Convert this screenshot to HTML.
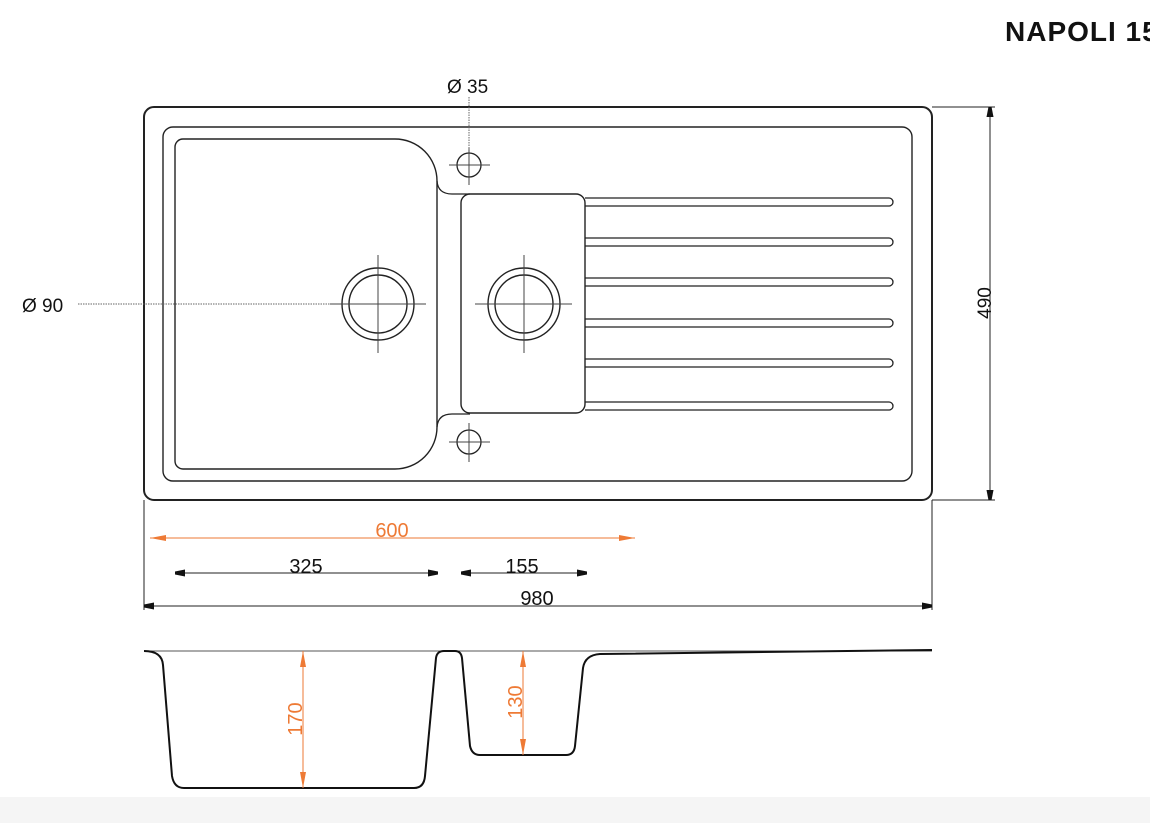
<!DOCTYPE html>
<html><head><meta charset="utf-8"><style>
html,body{margin:0;padding:0;background:#fff;}
svg{display:block;}
text{font-family:"Liberation Sans",Arial,sans-serif;}
</style></head><body>
<svg width="1150" height="823" viewBox="0 0 1150 823" xmlns="http://www.w3.org/2000/svg">
<defs>
<marker id="ab" markerWidth="10" markerHeight="8" refX="10" refY="4" orient="auto-start-reverse" markerUnits="userSpaceOnUse"><path d="M0,0.5 L18,4 L0,7.5 Z" fill="#111"/></marker>
<marker id="ao" markerWidth="16" markerHeight="8" refX="16" refY="4" orient="auto-start-reverse" markerUnits="userSpaceOnUse"><path d="M0,1 L16,4 L0,7 Z" fill="#ee7a35"/></marker>
</defs>
<rect x="0" y="797" width="1150" height="26" fill="#f5f5f5"/>
<text x="1005" y="41" font-size="28" font-weight="bold" fill="#111" letter-spacing="1">NAPOLI 15</text>

<g fill="none" stroke="#222">
<rect x="144" y="107" width="788" height="393" rx="10" stroke-width="2"/>
<rect x="163" y="127" width="749" height="354" rx="10" stroke-width="1.4"/>
<!-- left bowl -->
<path d="M183,139 L395,139 A42,42 0 0 1 437,181 L437,427 A42,42 0 0 1 395,469 L183,469 A8,8 0 0 1 175,461 L175,147 A8,8 0 0 1 183,139 Z" stroke-width="1.4"/>
<!-- ledges -->
<path d="M437,181 Q438,194 452,194 L470,194" stroke-width="1.3"/>
<path d="M437,427 Q438,414 452,414 L470,414" stroke-width="1.3"/>
<!-- small bowl -->
<rect x="461" y="194" width="124" height="219" rx="9" stroke-width="1.4"/>
<!-- grooves -->
<g stroke-width="1.3">
<path d="M585,198 L889,198 A4,4 0 0 1 889,206 L585,206"/>
<path d="M585,238 L889,238 A4,4 0 0 1 889,246 L585,246"/>
<path d="M585,278 L889,278 A4,4 0 0 1 889,286 L585,286"/>
<path d="M585,319 L889,319 A4,4 0 0 1 889,327 L585,327"/>
<path d="M585,359 L889,359 A4,4 0 0 1 889,367 L585,367"/>
<path d="M585,402 L889,402 A4,4 0 0 1 889,410 L585,410"/>
</g>
<!-- drains -->
<circle cx="378" cy="304" r="36" stroke-width="1.4"/>
<circle cx="378" cy="304" r="29" stroke-width="1.4"/>
<circle cx="524" cy="304" r="36" stroke-width="1.4"/>
<circle cx="524" cy="304" r="29" stroke-width="1.4"/>
<circle cx="469" cy="165" r="12" stroke-width="1.3"/>
<circle cx="469" cy="442" r="12" stroke-width="1.3"/>
</g>
<g stroke="#444" stroke-width="1">
<line x1="378" y1="255" x2="378" y2="353"/><line x1="330" y1="304" x2="426" y2="304"/>
<line x1="524" y1="255" x2="524" y2="353"/><line x1="475" y1="304" x2="572" y2="304"/>
<line x1="469" y1="148" x2="469" y2="185"/><line x1="449" y1="165" x2="490" y2="165"/>
<line x1="469" y1="423" x2="469" y2="462"/><line x1="449" y1="442" x2="490" y2="442"/>
</g>
<g stroke="#666" stroke-width="1" stroke-dasharray="1.5,1">
<line x1="78" y1="304" x2="330" y2="304"/>
<line x1="469" y1="97" x2="469" y2="150"/>
</g>
<text x="447" y="93" font-size="19" fill="#111">Ø 35</text>
<text x="22" y="312" font-size="19" fill="#111">Ø 90</text>

<!-- 490 -->
<g stroke="#222" stroke-width="1" fill="none">
<line x1="932" y1="107" x2="995" y2="107"/>
<line x1="932" y1="500" x2="995" y2="500"/>
<line x1="990" y1="107" x2="990" y2="500" marker-start="url(#ab)" marker-end="url(#ab)"/>
<line x1="144" y1="500" x2="144" y2="610"/>
<line x1="932" y1="500" x2="932" y2="610"/>
<line x1="175" y1="573" x2="438" y2="573" marker-start="url(#ab)" marker-end="url(#ab)"/>
<line x1="461" y1="573" x2="587" y2="573" marker-start="url(#ab)" marker-end="url(#ab)"/>
<line x1="144" y1="606" x2="932" y2="606" marker-start="url(#ab)" marker-end="url(#ab)"/>
</g>
<text transform="translate(991,303) rotate(-90)" text-anchor="middle" font-size="19" fill="#111">490</text>
<line x1="150" y1="538" x2="635" y2="538" stroke="#ee7a35" stroke-width="1" marker-start="url(#ao)" marker-end="url(#ao)"/>
<text x="392" y="537" text-anchor="middle" font-size="20" fill="#ee7a35">600</text>
<text x="306" y="573" text-anchor="middle" font-size="20" fill="#111">325</text>
<text x="522" y="573" text-anchor="middle" font-size="20" fill="#111">155</text>
<text x="537" y="605" text-anchor="middle" font-size="20" fill="#111">980</text>

<!-- section -->
<line x1="144" y1="651" x2="932" y2="651" stroke="#555" stroke-width="1"/>
<path d="M144,651 Q162,651 163,665 L172,776 Q174,788 184,788 L414,788 Q424,788 425,776 L436,658 Q437,651 444,651 L455,651 Q461,651 462,658 L470,746 Q472,755 480,755 L566,755 Q574,755 575,746 L583,668 Q585,655 600,654 L932,650" fill="none" stroke="#111" stroke-width="2"/>
<g stroke="#ee7a35" stroke-width="1">
<line x1="303" y1="651" x2="303" y2="788" marker-start="url(#ao)" marker-end="url(#ao)"/>
<line x1="523" y1="651" x2="523" y2="755" marker-start="url(#ao)" marker-end="url(#ao)"/>
</g>
<text transform="translate(302,719) rotate(-90)" text-anchor="middle" font-size="20" fill="#ee7a35">170</text>
<text transform="translate(522,702) rotate(-90)" text-anchor="middle" font-size="20" fill="#ee7a35">130</text>
</svg>
</body></html>
